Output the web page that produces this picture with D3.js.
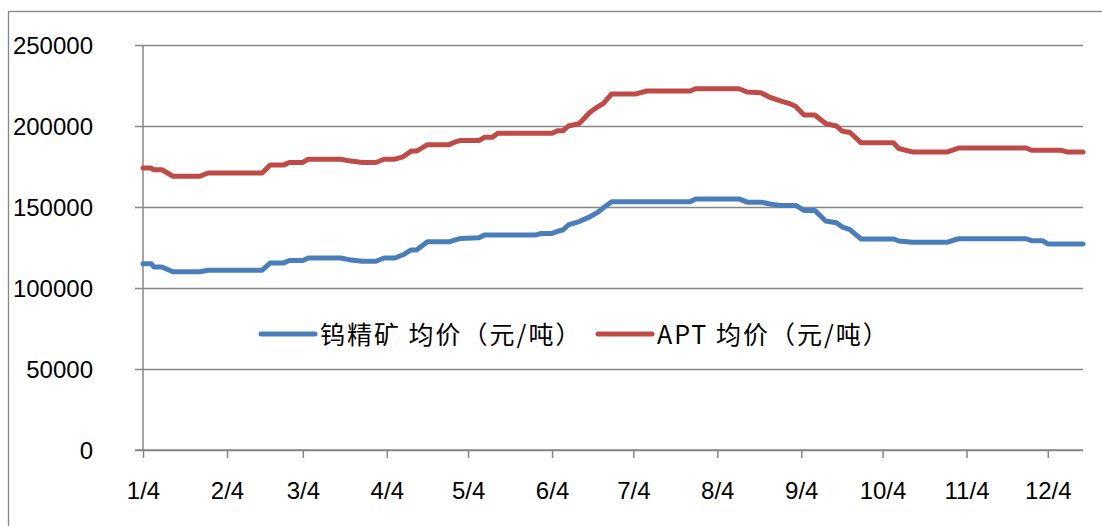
<!DOCTYPE html>
<html>
<head>
<meta charset="utf-8">
<script src="https://cdn.jsdelivr.net/npm/d3@7"></script>
<style>
  body { margin: 0; background: #fff; }
</style>
</head>
<body>
<div id="chart-region"></div>
<script>
const MARGIN = {LEFT: 143, RIGHT: 19, TOP: 45, DOWN: 76};
const WIDTH = 1102 - MARGIN.LEFT - MARGIN.RIGHT;
const HEIGHT = 526 - MARGIN.TOP - MARGIN.DOWN;

// dates (2013, daily axis) and prices
const dates = [
    "2013-01-04", "2013-01-07", "2013-01-08", "2013-01-11", "2013-01-15", "2013-01-25", "2013-01-28", "2013-02-17",
    "2013-02-20", "2013-02-25", "2013-02-27", "2013-03-04", "2013-03-06", "2013-03-18", "2013-03-21", "2013-03-26",
    "2013-03-31", "2013-04-03", "2013-04-07", "2013-04-10", "2013-04-13", "2013-04-15", "2013-04-19", "2013-04-27",
    "2013-04-29", "2013-05-01", "2013-05-08", "2013-05-10", "2013-05-13", "2013-05-15", "2013-05-29", "2013-05-31",
    "2013-06-04", "2013-06-06", "2013-06-08", "2013-06-10", "2013-06-14", "2013-06-16", "2013-06-18", "2013-06-21",
    "2013-06-23", "2013-06-26", "2013-07-05", "2013-07-09", "2013-07-25", "2013-07-27", "2013-08-12", "2013-08-15",
    "2013-08-20", "2013-08-23", "2013-08-27", "2013-08-31", "2013-09-02", "2013-09-05", "2013-09-09", "2013-09-13",
    "2013-09-17", "2013-09-19", "2013-09-22", "2013-09-26", "2013-10-08", "2013-10-10", "2013-10-15", "2013-10-28",
    "2013-11-01", "2013-11-26", "2013-11-28", "2013-12-02", "2013-12-04", "2013-12-09", "2013-12-11", "2013-12-17"
];
const concentrate = [
    115000, 115000, 113000, 113000, 110000, 110000, 111000, 111000,
    115500, 115500, 117000, 117000, 118500, 118500, 117500, 116500,
    116500, 118500, 118500, 120500, 123500, 123500, 128500, 128500,
    129500, 130500, 131000, 132700, 132700, 132700, 132700, 133700,
    133700, 135000, 135800, 138900, 141000, 142500, 144000, 146800,
    149600, 153300, 153300, 153300, 153300, 155000, 155000, 153000,
    153000, 152000, 151000, 151000, 151000, 147900, 147900, 141400,
    140300, 137800, 136100, 130300, 130300, 129000, 128300, 128300,
    130400, 130400, 129200, 129200, 127200, 127200, 127200, 127200
];
const apt = [
    174000, 174000, 173000, 173000, 169000, 169000, 171000, 171000,
    176000, 176000, 177500, 177500, 179500, 179500, 178500, 177500,
    177500, 179500, 179500, 181000, 184500, 184500, 188500, 188500,
    190000, 191000, 191000, 193000, 193000, 195500, 195500, 195500,
    195500, 197000, 197000, 200000, 201500, 205000, 208500, 212000,
    214000, 219800, 219800, 221600, 221600, 223000, 223000, 221000,
    220600, 218000, 215600, 213600, 212000, 206800, 206800, 201500,
    200000, 196900, 196000, 189700, 189700, 186100, 184000, 184000,
    186400, 186400, 185000, 185000, 185000, 185000, 184000, 184000
];
const yTickValues = [0, 50000, 100000, 150000, 200000, 250000];
const seriesNames = ["钨精矿 均价（元/吨）", "APT 均价（元/吨）"];
const colorMapper = {"concentrate": "#4A7EBB", "apt": "#BE4B48"};

const GRID = "#868686";
const parseDate = d3.timeParse("%Y-%m-%d");

const chart = d3.select("#chart-region").append("svg")
    .attr("width", 1102)
    .attr("height", 526)
    .style("display", "block");

// outer frame
chart.append("rect")
    .attr("x", 8.5)
    .attr("y", 11.5)
    .attr("width", 1200)
    .attr("height", 600)
    .attr("fill", "none")
    .style("stroke", GRID)
    .style("stroke-width", "1.3px");

const plot = chart.append("g").attr("transform", `translate(${MARGIN.LEFT}, ${MARGIN.TOP})`);

const xTicks = d3.scaleTime()
    .domain([parseDate(dates[0]), parseDate(dates[dates.length - 1])])
    .range([0, WIDTH]);
const yTicks = d3.scaleLinear().domain([0, 250000]).range([HEIGHT, 0]);

// y grid + labels
const yAxis = plot.append("g")
    .call(d3.axisLeft(yTicks).tickValues(yTickValues).tickSize(-WIDTH - 8).tickSizeOuter(0).tickPadding(50).tickFormat(d3.format("d")));
yAxis.select(".domain").remove();
yAxis.selectAll(".tick line")
    .attr("x1", -8)
    .attr("x2", WIDTH)
    .style("stroke", GRID)
    .style("stroke-width", "1.5px");
yAxis.selectAll(".tick text")
    .attr("x", -50)
    .attr("dy", "0.35em")
    .attr("font-family", "'Liberation Sans', Arial, sans-serif")
    .attr("font-size", "24px")
    .attr("fill", "#000");

// vertical axis line
plot.append("line")
    .attr("x1", 0).attr("x2", 0)
    .attr("y1", 0).attr("y2", HEIGHT)
    .style("stroke", GRID)
    .style("stroke-width", "1.5px");

// x axis, tick on every 4th of the month
const monthTicks = d3.range(0, 12).map(m => new Date(2013, m, 4));
const xAxis = plot.append("g")
    .attr("transform", `translate(0, ${HEIGHT})`)
    .call(d3.axisBottom(xTicks).tickValues(monthTicks).tickSize(8).tickSizeOuter(0).tickPadding(24)
        .tickFormat(d => `${d.getMonth() + 1}/${d.getDate()}`));
xAxis.select(".domain")
    .attr("d", `M-8,0H${WIDTH}`)
    .style("stroke", GRID)
    .style("stroke-width", "1.5px");
xAxis.selectAll(".tick line")
    .style("stroke", GRID)
    .style("stroke-width", "1.5px");
xAxis.selectAll(".tick text")
    .attr("font-family", "'Liberation Sans', Arial, sans-serif")
    .attr("font-size", "24px")
    .attr("fill", "#000");

// lines
const rows = dates.map((d, i) => ({date: parseDate(d), concentrate: concentrate[i], apt: apt[i]}));

["apt", "concentrate"].forEach(key => {
    const line = d3.line()
        .x(d => xTicks(d.date))
        .y(d => yTicks(d[key]));
    plot.append("path")
        .datum(rows)
        .attr("d", line)
        .attr("fill", "none")
        .style("stroke", colorMapper[key])
        .style("stroke-width", "5px")
        .style("stroke-linejoin", "round")
        .style("stroke-linecap", "round");
});

// legand
const legand = chart.append("g");
const legandItems = [
    {key: "concentrate", name: seriesNames[0], x: 261},
    {key: "apt", name: seriesNames[1], x: 598}
];
legandItems.forEach(item => {
    legand.append("line")
        .attr("x1", item.x).attr("x2", item.x + 54)
        .attr("y1", 334).attr("y2", 334)
        .style("stroke", colorMapper[item.key])
        .style("stroke-width", "5px")
        .style("stroke-linecap", "round");
    legand.append("text")
        .attr("x", item.x + 59)
        .attr("y", 333)
        .attr("dominant-baseline", "central")
        .attr("font-family", "'Noto Sans CJK SC', 'Liberation Sans', sans-serif")
        .attr("font-size", "25px")
        .attr("letter-spacing", "2px")
        .attr("fill", "#000")
        .text(item.name);
});
</script>
</body>
</html>
